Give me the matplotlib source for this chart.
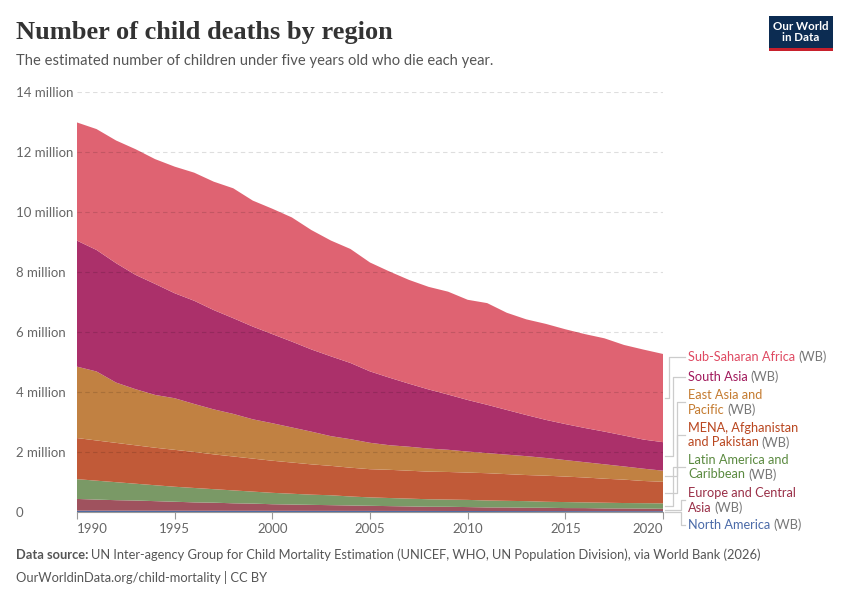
import numpy as np
import matplotlib.pyplot as plt
from matplotlib.patches import Rectangle
from matplotlib.lines import Line2D

# under-five deaths by region, millions
years = np.arange(1990, 2021)

north_america = [0.045, 0.044, 0.044, 0.043, 0.042, 0.042, 0.041, 0.041, 0.040, 0.040,
                 0.039, 0.039, 0.038, 0.038, 0.037, 0.037, 0.036, 0.036, 0.035, 0.034,
                 0.034, 0.033, 0.032, 0.032, 0.031, 0.031, 0.030, 0.030, 0.029, 0.029, 0.028]
europe_ca = [0.39, 0.37, 0.35, 0.34, 0.32, 0.30, 0.28, 0.27, 0.25, 0.24,
             0.22, 0.21, 0.20, 0.19, 0.18, 0.17, 0.16, 0.15, 0.14, 0.14,
             0.13, 0.12, 0.12, 0.11, 0.11, 0.10, 0.10, 0.09, 0.09, 0.085, 0.08]
latin_am = [0.66, 0.63, 0.60, 0.56, 0.53, 0.50, 0.48, 0.45, 0.43, 0.40,
            0.38, 0.36, 0.34, 0.33, 0.30, 0.28, 0.27, 0.26, 0.25, 0.24,
            0.24, 0.23, 0.22, 0.22, 0.20, 0.20, 0.19, 0.19, 0.18, 0.18, 0.18]
mena = [1.37, 1.34, 1.31, 1.28, 1.25, 1.23, 1.20, 1.16, 1.13, 1.10,
        1.07, 1.04, 1.01, 0.98, 0.96, 0.94, 0.94, 0.93, 0.92, 0.92,
        0.91, 0.91, 0.89, 0.87, 0.87, 0.85, 0.83, 0.80, 0.78, 0.74, 0.72]
east_asia = [2.38, 2.30, 2.01, 1.87, 1.76, 1.72, 1.60, 1.50, 1.42, 1.31,
             1.25, 1.17, 1.09, 0.99, 0.95, 0.88, 0.82, 0.80, 0.77, 0.74,
             0.70, 0.67, 0.65, 0.63, 0.59, 0.55, 0.51, 0.48, 0.44, 0.41, 0.37]
south_asia = [4.20, 4.05, 3.98, 3.81, 3.70, 3.50, 3.44, 3.31, 3.19, 3.09,
              2.97, 2.86, 2.74, 2.66, 2.54, 2.38, 2.25, 2.10, 1.97, 1.84,
              1.72, 1.61, 1.49, 1.37, 1.27, 1.20, 1.14, 1.09, 1.03, 0.97, 0.95]
ss_africa = [3.94, 4.03, 4.09, 4.19, 4.16, 4.22, 4.27, 4.28, 4.33, 4.20,
             4.18, 4.14, 3.98, 3.86, 3.80, 3.63, 3.54, 3.46, 3.42, 3.43,
             3.34, 3.39, 3.24, 3.19, 3.20, 3.16, 3.13, 3.11, 3.02, 3.00, 2.94]

series = [north_america, europe_ca, latin_am, mena, east_asia, south_asia, ss_africa]
fills = ["#4c6aa2", "#9f525e", "#7a9966", "#c15a38", "#c18142", "#ab306a", "#df6372"]
text_cols = ["#4a6aa8", "#9a3048", "#5b8a40", "#b9461f", "#c47b30", "#a11a5c", "#df4a62"]
# label lines, bottom series first
labels = [
    ["North America"],
    ["Europe and Central", "Asia"],
    ["Latin America and", "Caribbean"],
    ["MENA, Afghanistan", "and Pakistan"],
    ["East Asia and", "Pacific"],
    ["South Asia"],
    ["Sub-Saharan Africa"],
]
label_y = [525, 493, 460, 428, 395, 377, 357]    # px of first line
hook_y = [525, 500, 467, 435, 402, 377, 357]     # px where connector meets label
elbow_x = [681, 681, 673, 677, 677, 673, 669]

yticks = [0, 2, 4, 6, 8, 10, 12, 14]
ytick_labels = ["0"] + ["%d million" % v for v in yticks[1:]]
xticks = [1990, 1995, 2000, 2005, 2010, 2015, 2020]

plt.rcParams['font.family'] = ['Lato', 'DejaVu Sans']

W, H = 850, 600
fig = plt.figure(figsize=(8.5, 6), dpi=100)
ax = fig.add_axes([77 / W, 1 - 512 / H, 586 / W, 420 / H])

ax.stackplot(years, *series, colors=fills, linewidth=0)
ax.set_xlim(1990, 2020)
ax.set_ylim(0, 14)

ax.set_yticks(yticks)
ax.set_yticklabels(ytick_labels)
for t in ax.get_yticklabels():
    t.set_ha('left')
ax.tick_params(axis='y', length=0, pad=44, labelsize=9.5, labelcolor="#666666")
ax.yaxis.grid(True, color="black", alpha=0.13, linestyle=(0, (4, 3)), linewidth=0.8)
for line in ax.get_ygridlines():
    line.set_zorder(3)
ax.get_ygridlines()[0].set_visible(False)

ax.set_xticks(xticks)
ax.set_xticklabels([str(x) for x in xticks])
xl = ax.get_xticklabels()
xl[0].set_ha('left')
xl[-1].set_ha('right')
ax.tick_params(axis='x', length=5, color="#999999", labelsize=9.5,
               labelcolor="#666666", pad=3)

for s in ['top', 'right', 'left']:
    ax.spines[s].set_visible(False)
ax.spines['bottom'].set_color("#999999")
ax.spines['bottom'].set_linewidth(0.8)
ax.spines['bottom'].set_zorder(4)


def fpt(px, py):
    return px / W, 1 - py / H


fig.text(*fpt(16, 33), "Number of child deaths by region", family="Liberation Serif",
         fontsize=19, weight="bold", color="#333333", va="center")
fig.text(*fpt(16, 61), "The estimated number of children under five years old who die each year.",
         fontsize=10.6, color="#555555", va="center")

# logo
fig.patches.append(Rectangle(fpt(769, 51), 64 / W, 35 / H, transform=fig.transFigure,
                             facecolor="#0c2c52", edgecolor="none"))
fig.patches.append(Rectangle(fpt(769, 51), 64 / W, 3 / H, transform=fig.transFigure,
                             facecolor="#c8202c", edgecolor="none"))
fig.text(*fpt(801, 32), "Our World\nin Data", fontsize=8.3, color="white",
         ha="center", va="center", linespacing=1.0, weight="bold")

# footer
renderer = fig.canvas.get_renderer()
t = fig.text(*fpt(16, 555), "Data source:", fontsize=9.3, weight="bold", color="#555555", va="center")
bb = t.get_window_extent(renderer)
fig.text(bb.x1 / W + 3 / W, 1 - 555 / H,
         "UN Inter-agency Group for Child Mortality Estimation (UNICEF, WHO, UN Population Division), via World Bank (2026)",
         fontsize=9.3, color="#555555", va="center")
fig.text(*fpt(16, 577), "OurWorldinData.org/child-mortality | CC BY", fontsize=9.3,
         color="#555555", va="center")

# end labels with connectors
tops = np.cumsum([s[-1] for s in series])
bots = tops - np.array([s[-1] for s in series])
inv = fig.transFigure.inverted()
lx = 688
for i in range(len(series)):
    mid = (tops[i] + bots[i]) / 2
    sx, sy = ax.transData.transform((years[-1], mid))
    sx, sy = inv.transform((sx + 2, sy))
    ex, ey = fpt(elbow_x[i], hook_y[i])
    kx, _ = fpt(elbow_x[i], 0)
    fig.add_artist(Line2D([sx, kx, kx, fpt(685, 0)[0]], [sy, sy, ey, ey],
                          transform=fig.transFigure, color="#cccccc", linewidth=0.9))
    lines = labels[i]
    for j, txt in enumerate(lines):
        yy = label_y[i] + 14.5 * j
        tt = fig.text(*fpt(lx, yy), txt, fontsize=9.2, color=text_cols[i], va="center")
        if j == len(lines) - 1:
            b = tt.get_window_extent(renderer)
            fig.text(b.x1 / W + 3 / W, 1 - yy / H, "(WB)", fontsize=9.2,
                     color="#777777", va="center")

fig.savefig("out.png", dpi=100)
